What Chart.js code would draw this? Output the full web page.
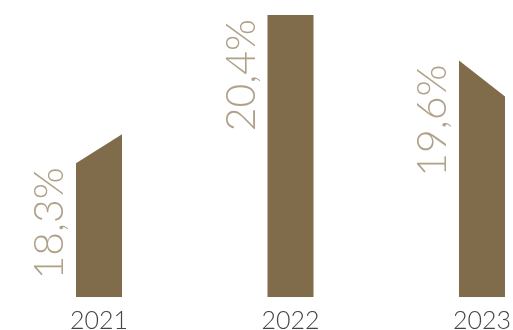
<!DOCTYPE html>
<html>
<head>
<meta charset="utf-8">
<script src="https://cdn.jsdelivr.net/npm/chart.js@4"></script>
<style>
  html, body { margin: 0; padding: 0; background: #fff; }
  #wrap { width: 513px; height: 330px; }
</style>
</head>
<body>
<div id="wrap"><canvas id="grafico"></canvas></div>
<script>
const years = ["2021", "2022", "2023"];
const shares = [18.3, 20.4, 19.6];
const shareLabels = ["18,3%", "20,4%", "19,6%"];

const yMin = 15.43;
const yMax = 20.63;

const barColor = "#806b4b";
const labelColor = "#b0a189";

// desenha a barra com o topo inclinado do lado "mais baixo" da tendencia e escreve o valor na vertical
const slantPlugin = {
  id: "slant",
  afterDatasetsDraw(chart, args, opts) {
    const ctx = chart.ctx;
    const meta = chart.getDatasetMeta(0);
    const data = chart.data.datasets[0].data;
    meta.data.forEach((bar, i) => {
      const half = bar.width / 2;
      const left = bar.x - half, right = bar.x + half;
      const prev = data[i - 1], next = data[i + 1];
      const drop = opts.drops[i] || 0;
      let leftTop = bar.y, rightTop = bar.y;
      if (next !== undefined && next > data[i]) leftTop = bar.y + drop;
      else if (prev !== undefined && prev > data[i]) rightTop = bar.y + drop;

      ctx.save();
      ctx.fillStyle = barColor;
      ctx.beginPath();
      ctx.moveTo(left, bar.base);
      ctx.lineTo(left, leftTop);
      ctx.lineTo(right, rightTop);
      ctx.lineTo(right, bar.base);
      ctx.closePath();
      ctx.fill();

      // rótulo rotacionado
      ctx.translate(left - opts.gap, leftTop + opts.shift);
      ctx.rotate(-Math.PI / 2);
      ctx.fillStyle = labelColor;
      ctx.font = "300 41px Lato";
      ctx.textAlign = "right";
      ctx.textBaseline = "alphabetic";
      ctx.fillText(shareLabels[i], 0, 0);
      ctx.restore();
    });
  }
};

const ctx = document.getElementById("grafico").getContext("2d");

new Chart(ctx, {
  type: "bar",
  data: {
    labels: years,
    datasets: [{
      data: shares,
      base: yMin,
      backgroundColor: "rgba(0,0,0,0)",
      barThickness: 46,
      clip: false
    }]
  },
  options: {
    responsive: true,
    maintainAspectRatio: false,
    animation: false,
    layout: { padding: { left: 99, right: 31, top: 2, bottom: 0 } },
    plugins: {
      legend: { display: false },
      tooltip: { enabled: false },
      slant: { drops: [29, 0, 36], gap: 13, shift: 4 }
    },
    scales: {
      x: {
        offset: false,
        grid: { display: false, drawTicks: false },
        border: { display: false },
        afterFit(scale) {
          scale.height = 33;
          scale.paddingLeft = 0;
          scale.paddingRight = 0;
        },
        ticks: {
          color: "#444",
          padding: 9,
          maxRotation: 0,
          font: { family: "Lato", size: 25, weight: 300 }
        }
      },
      y: {
        display: false,
        min: yMin,
        max: yMax
      }
    }
  },
  plugins: [slantPlugin]
});
</script>
</body>
</html>
